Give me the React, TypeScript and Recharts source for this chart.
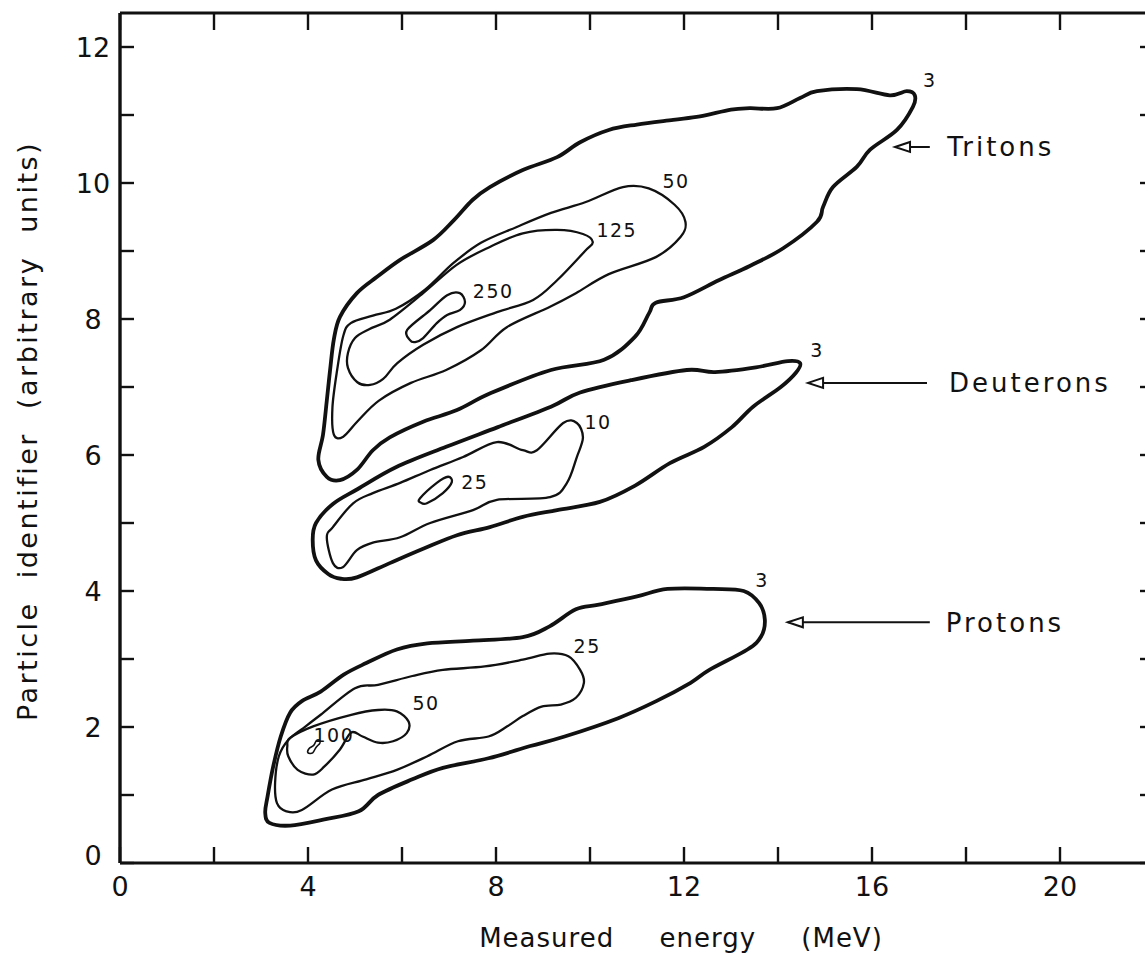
import { ComposedChart, Line, Scatter, XAxis, YAxis, ReferenceLine, Label } from "recharts";

type Pair = [number, number];

const INK = "#111";
const FONT = "DejaVu Sans";

// contour outlines, [energy MeV, identifier]
const TRITONS_3: Pair[] = [
  [4.68, 5.63], [4.4, 5.68], [4.22, 5.93], [4.32, 6.3], [4.4, 6.8], [4.47, 7.25], [4.55, 7.7],
  [4.68, 8.03], [5.04, 8.38], [5.47, 8.62], [5.96, 8.87], [6.66, 9.16], [7.1, 9.45], [7.5, 9.75],
  [7.87, 9.94], [8.57, 10.19], [9.3, 10.38], [9.79, 10.6], [10.4, 10.78], [11.0, 10.86],
  [11.77, 10.93], [12.34, 10.98], [13.0, 11.08], [13.4, 11.1], [13.98, 11.1], [14.47, 11.25],
  [14.83, 11.35], [15.68, 11.38], [16.38, 11.29], [16.74, 11.35], [16.91, 11.29], [16.87, 11.12],
  [16.53, 10.78], [15.96, 10.49], [15.68, 10.24], [15.17, 9.94], [14.96, 9.65], [14.83, 9.43],
  [14.11, 9.04], [13.4, 8.78], [12.74, 8.57], [12.0, 8.32], [11.4, 8.24], [11.26, 8.09],
  [10.96, 7.74], [10.3, 7.4], [9.17, 7.25], [7.89, 6.91], [7.17, 6.66], [6.45, 6.49],
  [5.74, 6.26], [5.38, 6.07], [5.04, 5.78],
];
const TRITONS_50: Pair[] = [
  [4.62, 7.25], [4.75, 7.75], [4.91, 7.94], [5.38, 8.05], [5.87, 8.15], [6.49, 8.43], [7.09, 8.82],
  [7.68, 9.12], [8.43, 9.35], [9.17, 9.56], [9.91, 9.72], [10.7, 9.94], [11.25, 9.92], [11.8, 9.68],
  [12.03, 9.43], [11.93, 9.21], [11.4, 8.91], [10.4, 8.66], [9.7, 8.38], [9.15, 8.18], [8.23, 7.88],
  [7.68, 7.54], [6.94, 7.25], [6.19, 7.06], [5.51, 6.8], [5.06, 6.5], [4.75, 6.27], [4.55, 6.3],
  [4.52, 6.7],
];
const TRITONS_125: Pair[] = [
  [4.85, 7.28], [4.85, 7.5], [5.0, 7.72], [5.3, 7.85], [5.74, 7.99], [6.45, 8.38], [7.17, 8.8],
  [7.87, 9.06], [8.57, 9.26], [9.3, 9.31], [9.85, 9.25], [10.06, 9.13], [9.88, 8.99], [9.3, 8.57],
  [8.79, 8.28], [8.02, 8.1], [7.17, 7.88], [6.45, 7.62], [5.9, 7.35], [5.6, 7.12], [5.32, 7.03],
  [5.05, 7.07],
];
const TRITONS_250: Pair[] = [
  [6.17, 7.69], [6.11, 7.84], [6.6, 8.13], [6.96, 8.35], [7.23, 8.38], [7.34, 8.25], [7.23, 8.13],
  [6.96, 8.06], [6.74, 7.94], [6.45, 7.72], [6.28, 7.66],
];

const DEUTERONS_3: Pair[] = [
  [4.43, 4.25], [4.17, 4.45], [4.1, 4.75], [4.17, 5.0], [4.53, 5.28], [5.06, 5.5], [5.87, 5.82],
  [6.94, 6.12], [8.04, 6.41], [9.17, 6.71], [9.79, 6.92], [10.87, 7.1], [12.06, 7.25],
  [12.66, 7.22], [13.53, 7.29], [14.21, 7.38], [14.47, 7.35], [14.38, 7.21], [14.06, 7.0],
  [13.47, 6.71], [13.02, 6.41], [12.43, 6.12], [11.7, 5.88], [10.96, 5.55], [10.21, 5.31],
  [9.3, 5.19], [8.57, 5.09], [7.87, 4.94], [7.17, 4.82], [6.45, 4.62], [5.74, 4.41], [5.04, 4.2],
  [4.7, 4.18],
];
const DEUTERONS_10: Pair[] = [
  [4.4, 4.79], [4.53, 4.41], [4.74, 4.35], [5.04, 4.6], [5.38, 4.71], [5.96, 4.79], [6.6, 5.0],
  [7.51, 5.19], [8.02, 5.34], [9.15, 5.38], [9.51, 5.59], [9.72, 5.97], [9.85, 6.26], [9.72, 6.47],
  [9.43, 6.47], [8.87, 6.07], [8.57, 6.07], [8.02, 6.19], [7.3, 5.97], [6.6, 5.78], [5.96, 5.59],
  [5.38, 5.44], [4.96, 5.29], [4.53, 4.94],
];
const DEUTERONS_25: Pair[] = [
  [6.38, 5.36], [6.74, 5.59], [6.98, 5.68], [7.06, 5.6], [6.87, 5.44], [6.53, 5.29], [6.4, 5.3],
];

const PROTONS_3: Pair[] = [
  [3.09, 0.74], [3.18, 0.59], [3.62, 0.55], [4.35, 0.64], [5.08, 0.76], [5.49, 1.0], [6.22, 1.23],
  [6.87, 1.4], [7.84, 1.54], [8.73, 1.72], [9.46, 1.86], [10.6, 2.13], [11.41, 2.38],
  [12.14, 2.65], [12.54, 2.84], [13.35, 3.14], [13.64, 3.33], [13.72, 3.58], [13.6, 3.82],
  [13.27, 4.0], [12.62, 4.03], [11.65, 4.03], [11.0, 3.92], [10.19, 3.8], [9.7, 3.73],
  [9.14, 3.48], [8.57, 3.32], [7.51, 3.27], [6.54, 3.23], [5.89, 3.14], [5.24, 2.94],
  [4.76, 2.77], [4.27, 2.52], [3.87, 2.38], [3.62, 2.21], [3.42, 1.86], [3.26, 1.42],
  [3.14, 0.98],
];
const PROTONS_25: Pair[] = [
  [4.27, 2.18], [5.0, 2.57], [5.49, 2.62], [6.22, 2.75], [6.87, 2.84], [7.76, 2.89], [8.57, 2.99],
  [9.14, 3.08], [9.54, 3.04], [9.79, 2.84], [9.87, 2.65], [9.7, 2.43], [9.38, 2.33], [8.97, 2.3],
  [8.57, 2.16], [8.24, 2.01], [7.84, 1.86], [7.19, 1.79], [6.54, 1.57], [5.89, 1.37], [5.24, 1.23],
  [4.51, 1.08], [3.87, 0.78], [3.54, 0.76], [3.34, 0.88], [3.3, 1.18], [3.38, 1.57], [3.58, 1.81],
  [3.95, 2.01],
];
const PROTONS_50: Pair[] = [
  [3.62, 1.84], [4.11, 2.01], [4.92, 2.18], [5.49, 2.25], [5.89, 2.23], [6.14, 2.08], [6.1, 1.91],
  [5.81, 1.79], [5.49, 1.77], [5.16, 1.86], [4.92, 1.92], [4.68, 1.67], [4.35, 1.42], [4.11, 1.3],
  [3.78, 1.37], [3.58, 1.57], [3.56, 1.72],
];
const PROTONS_100: Pair[] = [
  [4.0, 1.62], [4.1, 1.62], [4.17, 1.7], [4.25, 1.76], [4.25, 1.8], [4.18, 1.8], [4.12, 1.73],
  [4.02, 1.68],
];

// count labels beside the contours
const CONTOUR_TAGS = [
  { x: 17.23, y: 11.51, text: "3" },
  { x: 11.83, y: 10.03, text: "50" },
  { x: 10.57, y: 9.31, text: "125" },
  { x: 7.94, y: 8.41, text: "250" },
  { x: 14.83, y: 7.54, text: "3" },
  { x: 10.17, y: 6.49, text: "10" },
  { x: 7.55, y: 5.6, text: "25" },
  { x: 13.66, y: 4.16, text: "3" },
  { x: 9.94, y: 3.19, text: "25" },
  { x: 6.51, y: 2.35, text: "50" },
  { x: 4.55, y: 1.88, text: "100" },
];

// particle names with arrows: tip, tail, text start, level
const PARTICLES = [
  { name: "Tritons", tip: 16.49, tail: 17.23, textX: 17.6, y: 10.53 },
  { name: "Deuterons", tip: 14.64, tail: 17.17, textX: 17.64, y: 7.06 },
  { name: "Protons", tip: 14.21, tail: 17.23, textX: 17.57, y: 3.54 },
];

const X_TICKS = [0, 2, 4, 6, 8, 10, 12, 14, 16, 18, 20, 22];
const Y_TICKS = [0, 1, 2, 3, 4, 5, 6, 7, 8, 9, 10, 11, 12];

const toPoints = (pairs: Pair[]) => pairs.map(([x, y]) => ({ x, y }));

const CONTOURS = [
  { key: "t3", pts: TRITONS_3, w: 3.8 },
  { key: "t50", pts: TRITONS_50, w: 2.3 },
  { key: "t125", pts: TRITONS_125, w: 2.3 },
  { key: "t250", pts: TRITONS_250, w: 2.3 },
  { key: "d3", pts: DEUTERONS_3, w: 3.8 },
  { key: "d10", pts: DEUTERONS_10, w: 2.3 },
  { key: "d25", pts: DEUTERONS_25, w: 2.3 },
  { key: "p3", pts: PROTONS_3, w: 3.8 },
  { key: "p25", pts: PROTONS_25, w: 2.3 },
  { key: "p50", pts: PROTONS_50, w: 2.3 },
  { key: "p100", pts: PROTONS_100, w: 1.6 },
];

// closed Catmull-Rom through every point (d3 curve factory interface)
function closedSpline(context: any) {
  let pts: number[][] = [];
  return {
    areaStart() {},
    areaEnd() {},
    lineStart() {
      pts = [];
    },
    point(x: number, y: number) {
      pts.push([+x, +y]);
    },
    lineEnd() {
      const n = pts.length;
      if (!n) return;
      const p = (i: number) => pts[(i + n) % n];
      context.moveTo(pts[0][0], pts[0][1]);
      for (let i = 0; i < n; i++) {
        const p0 = p(i - 1), p1 = p(i), p2 = p(i + 1), p3 = p(i + 2);
        context.bezierCurveTo(
          p1[0] + (p2[0] - p0[0]) / 6, p1[1] + (p2[1] - p0[1]) / 6,
          p2[0] - (p3[0] - p1[0]) / 6, p2[1] - (p3[1] - p1[1]) / 6,
          p2[0], p2[1]
        );
      }
      context.closePath();
    },
  };
}

const numStyle = { fontFamily: FONT, fontSize: 27, fill: INK };

const BottomTick = (props: any) => {
  const { x, y, payload } = props;
  const v = payload.value;
  return (
    <g>
      <line x1={x} y1={y} x2={x} y2={y - 16} stroke={INK} strokeWidth={2.4} />
      {v % 4 === 0 && v <= 20 && (
        <text x={x} y={y + 33} textAnchor="middle" {...numStyle}>{v}</text>
      )}
    </g>
  );
};

const TopTick = (props: any) => {
  const { x, y } = props;
  return <line x1={x} y1={y} x2={x} y2={y + 17} stroke={INK} strokeWidth={2.4} />;
};

const LeftTick = (props: any) => {
  const { x, y, payload } = props;
  const v = payload.value;
  return (
    <g>
      <line x1={x} y1={y} x2={x + 14} y2={y} stroke={INK} strokeWidth={2.4} />
      {v % 2 === 0 && (
        <text x={x - 27} y={v === 0 ? y - 8 : y} dy="0.36em" textAnchor="middle" {...numStyle}>{v}</text>
      )}
    </g>
  );
};

const RightTick = (props: any) => {
  const { x, y } = props;
  return <line x1={x} y1={y} x2={x - 14} y2={y} stroke={INK} strokeWidth={2.4} />;
};

const ContourTag = (props: any) => (
  <text x={props.cx} y={props.cy} dy="0.36em" textAnchor="middle"
    fontFamily={FONT} fontSize={19} letterSpacing={1.5} fill={INK}>
    {props.payload.text}
  </text>
);

const ArrowHead = (props: any) => {
  const { cx, cy } = props;
  return (
    <path d={`M${cx},${cy} L${cx + 15},${cy - 5} L${cx + 15},${cy + 5} Z`}
      fill="#fff" stroke={INK} strokeWidth={2} />
  );
};

const ParticleName = (props: any) => (
  <text x={props.cx} y={props.cy} dy="0.36em" textAnchor="start"
    fontFamily={FONT} fontSize={26} letterSpacing={3} fill={INK}>
    {props.payload.name}
  </text>
);

const XTitle = (props: any) => {
  const vb = props.viewBox;
  return (
    <text x={vb.x + vb.width / 2 + 44} y={vb.y + 84} textAnchor="middle"
      fontFamily={FONT} fontSize={26} letterSpacing={1} wordSpacing={36} fill={INK}>
      Measured energy (MeV)
    </text>
  );
};

const YTitle = (props: any) => {
  const vb = props.viewBox;
  const cx = 27;
  const cy = vb.y + vb.height / 2 - 7;
  return (
    <text x={cx} y={cy} dy="0.36em" textAnchor="middle" transform={`rotate(-90 ${cx} ${cy})`}
      fontFamily={FONT} fontSize={27} letterSpacing={2.5} wordSpacing={12} fill={INK}>
      Particle identifier (arbitrary units)
    </text>
  );
};

export default function App() {
  const tips = PARTICLES.map((p) => ({ x: p.tip, y: p.y }));
  const names = PARTICLES.map((p) => ({ x: p.textX, y: p.y, name: p.name }));

  return (
    <div style={{ position: "absolute", left: 0, top: 0, width: 1145, height: 957, overflow: "hidden", background: "#fff" }}>
      <ComposedChart width={1160} height={957} margin={{ top: 12, right: 5, bottom: 93, left: 0 }}>
        <XAxis xAxisId={0} type="number" dataKey="x" domain={[0, 22]} allowDataOverflow ticks={X_TICKS}
          interval={0} height={1} tickSize={0} tickMargin={0} tickLine={false}
          axisLine={{ stroke: INK, strokeWidth: 3 }} tick={<BottomTick />}>
          <Label content={<XTitle />} />
        </XAxis>
        <XAxis xAxisId="top" orientation="top" type="number" dataKey="x" domain={[0, 22]} allowDataOverflow
          ticks={X_TICKS} interval={0} height={1} tickSize={0} tickMargin={0} tickLine={false}
          axisLine={{ stroke: INK, strokeWidth: 3 }} tick={<TopTick />} />
        <YAxis yAxisId={0} type="number" dataKey="y" domain={[0, 12.5]} allowDataOverflow ticks={Y_TICKS}
          interval={0} width={120} tickSize={0} tickMargin={0} tickLine={false}
          axisLine={{ stroke: INK, strokeWidth: 3.4 }} tick={<LeftTick />}>
          <Label content={<YTitle />} />
        </YAxis>
        <YAxis yAxisId="right" orientation="right" type="number" dataKey="y" domain={[0, 12.5]} allowDataOverflow
          ticks={Y_TICKS} interval={0} width={1} tickSize={0} tickMargin={0} tickLine={false}
          axisLine={{ stroke: INK, strokeWidth: 3 }} tick={<RightTick />} />

        {CONTOURS.map((c) => (
          <Line key={c.key} data={toPoints(c.pts)} dataKey="y" type={closedSpline as any}
            stroke={INK} strokeWidth={c.w} dot={false} activeDot={false}
            isAnimationActive={false} legendType="none" />
        ))}

        {PARTICLES.map((p) => (
          <ReferenceLine key={p.name} segment={[{ x: p.tip, y: p.y }, { x: p.tail, y: p.y }]}
            stroke={INK} strokeWidth={2} />
        ))}

        <Scatter data={tips} shape={<ArrowHead />} isAnimationActive={false} />
        <Scatter data={names} shape={<ParticleName />} isAnimationActive={false} />
        <Scatter data={CONTOUR_TAGS} shape={<ContourTag />} isAnimationActive={false} />
      </ComposedChart>
    </div>
  );
}
